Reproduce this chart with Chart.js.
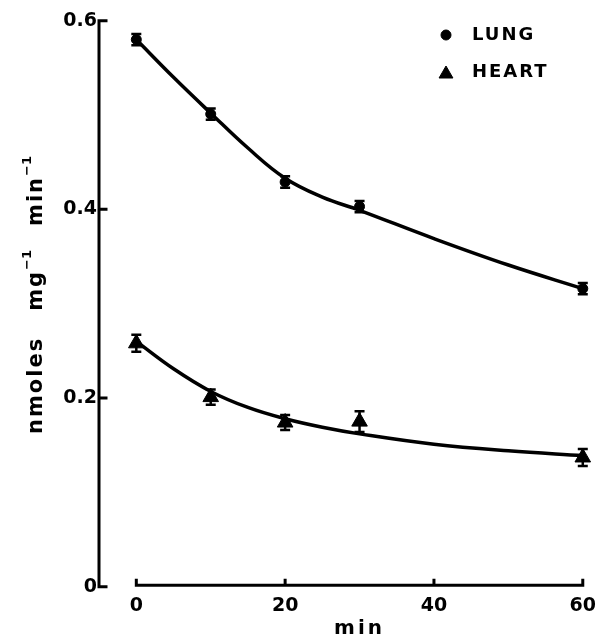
<!DOCTYPE html>
<html>
<head>
<meta charset="utf-8">
<script src="https://cdn.jsdelivr.net/npm/chart.js@4.4.1/dist/chart.umd.min.js"></script>
<style>
  html, body { margin: 0; padding: 0; background: #fff; }
  #chart { display: block; }
</style>
</head>
<body>
<canvas id="chart" width="604" height="641"></canvas>
<script>
// values
const minutes = [0, 10, 20, 30, 60];
const lungMean = [0.580, 0.501, 0.429, 0.403, 0.316];
const lungErr = [0.006, 0.006, 0.006, 0.006, 0.006];
const heartMean = [0.258, 0.201, 0.174, 0.175, 0.137];
const heartErr = [0.009, 0.008, 0.008, 0.011, 0.009];

// fitted curves, read at these times
const fitMinutes = [0, 5, 10, 15, 20, 25, 30, 40, 50, 60];
const lungFit = [0.580, 0.540, 0.502, 0.465, 0.433, 0.413, 0.399, 0.369, 0.341, 0.316];
const heartFit = [0.260, 0.231, 0.207, 0.190, 0.178, 0.169, 0.162, 0.151, 0.144, 0.139];

const xTicks = [0, 20, 40, 60];
const yTicks = [0, 0.2, 0.4, 0.6];
const yTickLabels = ['0', '0.2', '0.4', '0.6'];
const seriesNames = ['LUNG', 'HEART'];

const FONT = "'DejaVu Sans', 'Liberation Sans', sans-serif";

function toPoints(xs, ys) {
    return xs.map((x, i) => ({ x: x, y: ys[i] }));
}

// error bars drawn from the err arrays through the scales, under the markers
const errorBars = {
    id: 'errorBars',
    beforeDatasetsDraw(chart) {
        const ctx = chart.ctx;
        const xs = chart.scales.x, ys = chart.scales.y;
        ctx.save();
        ctx.strokeStyle = '#000';
        ctx.lineWidth = 2.5;
        chart.data.datasets.forEach(ds => {
            if (!ds.errors) return;
            ds.data.forEach((p, i) => {
                const px = xs.getPixelForValue(p.x);
                const top = ys.getPixelForValue(p.y + ds.errors[i]);
                const bot = ys.getPixelForValue(p.y - ds.errors[i]);
                ctx.beginPath();
                ctx.moveTo(px, top); ctx.lineTo(px, bot);
                ctx.moveTo(px - 5, top); ctx.lineTo(px + 5, top);
                ctx.moveTo(px - 5, bot); ctx.lineTo(px + 5, bot);
                ctx.stroke();
            });
        });
        ctx.restore();
    }
};

// axis lines in the figure's style: y axis left of the x origin, x axis only over 0..60
const axisLines = {
    id: 'axisLines',
    beforeDatasetsDraw(chart) {
        const ctx = chart.ctx;
        const xs = chart.scales.x, ys = chart.scales.y;
        const left = chart.chartArea.left - 1;
        const y0 = ys.getPixelForValue(0);
        ctx.save();
        ctx.strokeStyle = '#000';
        ctx.lineWidth = 3;
        ctx.lineCap = 'square';
        ctx.beginPath();
        ctx.moveTo(left, ys.getPixelForValue(yTicks[yTicks.length - 1]));
        ctx.lineTo(left, y0);
        yTicks.forEach(v => {
            const py = ys.getPixelForValue(v);
            ctx.moveTo(left, py);
            ctx.lineTo(left + 7, py);
        });
        ctx.stroke();

        const xa = y0 - 1.5;
        ctx.beginPath();
        ctx.moveTo(xs.getPixelForValue(xTicks[0]), xa);
        ctx.lineTo(xs.getPixelForValue(xTicks[xTicks.length - 1]), xa);
        xTicks.forEach(v => {
            const px = xs.getPixelForValue(v);
            ctx.moveTo(px, xa);
            ctx.lineTo(px, xa - 5);
        });
        ctx.stroke();
        ctx.restore();
    }
};

// axis titles and legend text
const labels = {
    id: 'labels',
    afterDraw(chart) {
        const ctx = chart.ctx;
        const xs = chart.scales.x;
        ctx.save();
        ctx.fillStyle = '#000';
        ctx.strokeStyle = '#000';
        ctx.textBaseline = 'middle';

        // x title
        ctx.font = 'bold 20px ' + FONT;
        ctx.letterSpacing = '3px';
        ctx.textAlign = 'center';
        ctx.fillText('min', xs.getPixelForValue(30), 629);

        // y title with superscripts
        const parts = [
            { t: 'nmoles', size: 21, rise: 0, gap: 0 },
            { t: 'mg', size: 21, rise: 0, gap: 26 },
            { t: '\u22121', size: 13, rise: 9, gap: 0 },
            { t: 'min', size: 21, rise: 0, gap: 24 },
            { t: '\u22121', size: 13, rise: 9, gap: 0 }
        ];
        let total = 0;
        parts.forEach(p => {
            ctx.font = 'bold ' + p.size + 'px ' + FONT;
            ctx.letterSpacing = p.size > 15 ? '2px' : '0px';
            p.w = ctx.measureText(p.t).width;
            total += p.gap + p.w;
        });
        ctx.translate(37, 295);
        ctx.rotate(-Math.PI / 2);
        ctx.textAlign = 'left';
        let cx = -total / 2;
        parts.forEach(p => {
            cx += p.gap;
            ctx.font = 'bold ' + p.size + 'px ' + FONT;
            ctx.letterSpacing = p.size > 15 ? '2px' : '0px';
            ctx.fillText(p.t, cx, -p.rise);
            cx += p.w;
        });
        ctx.restore();

        // legend
        ctx.save();
        ctx.fillStyle = '#000';
        ctx.strokeStyle = '#000';
        ctx.textBaseline = 'middle';
        ctx.textAlign = 'left';
        ctx.font = 'bold 18px ' + FONT;
        ctx.letterSpacing = '2px';
        const rows = [35, 72];
        [0, 1].forEach(i => {
            const ds = chart.data.datasets[i];
            Chart.helpers.drawPoint(ctx, {
                pointStyle: ds.pointStyle,
                radius: ds.pointStyle === 'triangle' ? 8 : 5,
                rotation: 0,
                borderWidth: 1
            }, 446, rows[i] + (ds.pointStyle === 'triangle' ? 2 : 0));
            ctx.fillText(ds.label, 472, rows[i]);
        });
        ctx.restore();
    }
};

const tickFont = { family: FONT, size: 19, weight: 'bold' };

new Chart(document.getElementById('chart'), {
    type: 'scatter',
    data: {
        datasets: [
            {
                label: seriesNames[0],
                data: toPoints(minutes, lungMean),
                errors: lungErr,
                pointStyle: 'circle',
                pointRadius: 5,
                backgroundColor: '#000',
                borderColor: '#000',
                borderWidth: 1,
                showLine: false
            },
            {
                label: seriesNames[1],
                data: toPoints(minutes, heartMean),
                errors: heartErr,
                pointStyle: 'triangle',
                pointRadius: 9,
                backgroundColor: '#000',
                borderColor: '#000',
                borderWidth: 1,
                showLine: false
            },
            {
                label: 'lung fit',
                data: toPoints(fitMinutes, lungFit),
                showLine: true,
                pointRadius: 0,
                borderColor: '#000',
                borderWidth: 3.5,
                tension: 0.4
            },
            {
                label: 'heart fit',
                data: toPoints(fitMinutes, heartFit),
                showLine: true,
                pointRadius: 0,
                borderColor: '#000',
                borderWidth: 3.5,
                tension: 0.4
            }
        ]
    },
    options: {
        responsive: false,
        animation: false,
        clip: false,
        layout: { padding: { top: 20.7, right: 16, bottom: 0, left: 0 } },
        scales: {
            x: {
                type: 'linear',
                min: -4.88,
                max: 60,
                afterBuildTicks: s => { s.ticks = xTicks.map(v => ({ value: v })); },
                afterFit: s => { s.height = 54.3; },
                ticks: {
                    color: '#000',
                    font: tickFont,
                    padding: 8,
                    maxRotation: 0,
                    autoSkip: false,
                    callback: v => String(v)
                },
                grid: { display: false, drawTicks: false },
                border: { display: false }
            },
            y: {
                min: 0,
                max: 0.6,
                afterBuildTicks: s => { s.ticks = yTicks.map(v => ({ value: v })); },
                afterFit: s => { s.width = 100; },
                ticks: {
                    color: '#000',
                    font: tickFont,
                    padding: 3,
                    autoSkip: false,
                    callback: (v) => yTickLabels[yTicks.indexOf(v)]
                },
                grid: { display: false, drawTicks: false },
                border: { display: false }
            }
        },
        plugins: {
            legend: { display: false },
            tooltip: { enabled: false }
        }
    },
    plugins: [axisLines, errorBars, labels]
});
</script>
</body>
</html>
